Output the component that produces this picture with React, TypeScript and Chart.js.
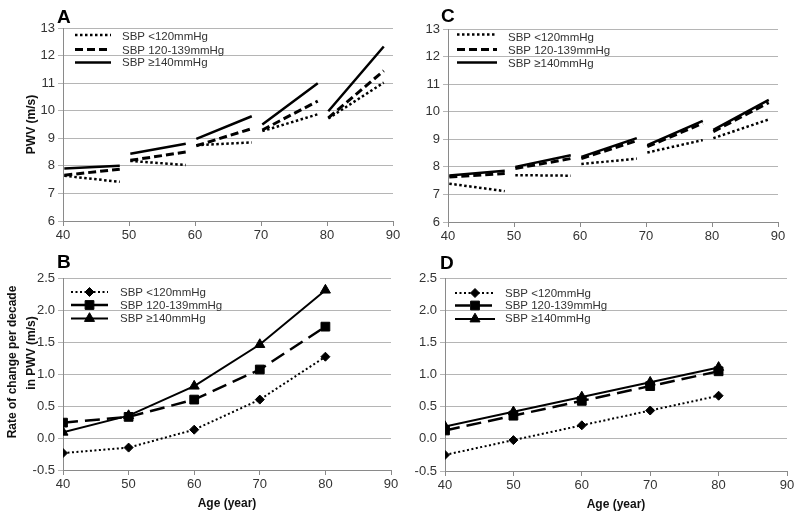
import React, { useEffect, useRef } from 'react';
import { Chart, registerables } from 'chart.js';

Chart.register(...registerables);
Chart.defaults.font.family = '"Liberation Sans", Arial, sans-serif';

// ---------- data ----------
const seriesLabels = ['SBP <120mmHg', 'SBP 120-139mmHg', 'SBP ≥140mmHg'];
const ageTicks = [40, 50, 60, 70, 80, 90];
const pwvTicks = [6, 7, 8, 9, 10, 11, 12, 13];
const rateTicks = [-0.5, 0, 0.5, 1.0, 1.5, 2.0, 2.5];

// decade segments (age at segment start / end)
const segmentStartAges = [40.2, 50.2, 60.2, 70.2, 80.2];
const segmentEndAges = [48.6, 58.6, 68.6, 78.6, 88.6];

// Panel A: PWV at start / end of each decade segment
const aLowStart = [7.64, 8.18, 8.75, 9.26, 9.72];
const aLowEnd = [7.42, 8.03, 8.85, 9.87, 11.02];
const aMidStart = [7.66, 8.2, 8.73, 9.3, 9.74];
const aMidEnd = [7.88, 8.5, 9.35, 10.35, 11.45];
const aHighStart = [7.9, 8.44, 8.98, 9.5, 9.98];
const aHighEnd = [8.0, 8.8, 9.8, 11.0, 12.33];

// Panel C
const cLowStart = [7.39, 7.7, 8.1, 8.52, 9.04];
const cLowEnd = [7.12, 7.68, 8.3, 8.97, 9.72];
const cMidStart = [7.63, 7.94, 8.3, 8.73, 9.28];
const cMidEnd = [7.76, 8.3, 8.95, 9.58, 10.33];
const cHighStart = [7.69, 8.0, 8.36, 8.79, 9.34];
const cHighEnd = [7.86, 8.42, 9.04, 9.67, 10.43];

// Panels B and D: rate of change per decade
const decadeAges = [40, 50, 60, 70, 80];
const bLow = [-0.235, -0.15, 0.13, 0.6, 1.27];
const bMid = [0.24, 0.33, 0.6, 1.07, 1.74];
const bHigh = [0.09, 0.35, 0.81, 1.46, 2.31];
const dLow = [-0.25, -0.02, 0.21, 0.44, 0.67];
const dMid = [0.13, 0.36, 0.59, 0.82, 1.05];
const dHigh = [0.19, 0.42, 0.65, 0.88, 1.11];

// ---------- helpers ----------
function segmentPoints(starts: number[], ends: number[]) {
  const pts: { x: number; y: number | null }[] = [];
  for (let i = 0; i < starts.length; i++) {
    pts.push({ x: segmentStartAges[i], y: starts[i] });
    pts.push({ x: segmentEndAges[i], y: ends[i] });
    pts.push({ x: segmentEndAges[i] + 0.5, y: null });
  }
  return pts;
}
function xyPoints(xs: number[], ys: number[]) {
  return xs.map((x, i) => ({ x, y: ys[i] }));
}

const TICK_FONT = { size: 13 };
const TITLE_FONT = { size: 12, weight: 'bold' as const };
const AXIS_COLOR = '#8a8a8a';
const GRID_COLOR = '#b5b5b5';

function drawMarker(ctx: CanvasRenderingContext2D, style: string, x: number, y: number, r: number) {
  ctx.save();
  ctx.fillStyle = '#000';
  ctx.strokeStyle = '#000';
  ctx.lineWidth = 1;
  ctx.setLineDash([]);
  ctx.beginPath();
  if (style === 'rectRot') {
    ctx.moveTo(x - r, y);
    ctx.lineTo(x, y - r);
    ctx.lineTo(x + r, y);
    ctx.lineTo(x, y + r);
  } else if (style === 'rect') {
    const s = r * Math.SQRT1_2;
    ctx.rect(x - s, y - s, 2 * s, 2 * s);
  } else if (style === 'triangle') {
    for (let k = 0; k < 3; k++) {
      const a = (k * 2 * Math.PI) / 3;
      const px = x + Math.sin(a) * r;
      const py = y - Math.cos(a) * r;
      if (k === 0) ctx.moveTo(px, py);
      else ctx.lineTo(px, py);
    }
  }
  ctx.closePath();
  ctx.fill();
  ctx.stroke();
  ctx.restore();
}

const decorPlugin = {
  id: 'decor',
  afterDraw(chart: any, _args: any, opts: any) {
    const ctx: CanvasRenderingContext2D = chart.ctx;
    ctx.save();
    // panel letter
    ctx.font = 'bold 19px "Liberation Sans", Arial, sans-serif';
    ctx.fillStyle = '#000';
    ctx.textAlign = 'left';
    ctx.textBaseline = 'alphabetic';
    ctx.fillText(opts.letter, opts.letterX, opts.letterY);
    // optional multi-line y title
    if (opts.yTitle) {
      ctx.font = 'bold 12px "Liberation Sans", Arial, sans-serif';
      ctx.fillStyle = '#111';
      ctx.textAlign = 'center';
      ctx.textBaseline = 'middle';
      opts.yTitle.forEach((t: any) => {
        ctx.save();
        ctx.translate(t.x, t.y);
        ctx.rotate(-Math.PI / 2);
        ctx.fillText(t.text, 0, 0);
        ctx.restore();
      });
    }
    // legend
    const lg = opts.legend;
    chart.data.datasets.forEach((ds: any, i: number) => {
      const y = lg.rows[i];
      ctx.save();
      ctx.strokeStyle = '#000';
      ctx.lineWidth = ds.borderWidth;
      ctx.setLineDash(ds.borderDash || []);
      ctx.beginPath();
      ctx.moveTo(lg.x0, y);
      ctx.lineTo(lg.x1, y);
      ctx.stroke();
      ctx.restore();
      if (lg.markers) drawMarker(ctx, ds.pointStyle, (lg.x0 + lg.x1) / 2, y, ds.pointRadius);
      ctx.font = '11.5px "Liberation Sans", Arial, sans-serif';
      ctx.fillStyle = '#333';
      ctx.textAlign = 'left';
      ctx.textBaseline = 'middle';
      ctx.fillText(ds.label, lg.textX, lg.textRows[i]);
    });
    ctx.restore();
  },
};

const segStyles = [
  { borderWidth: 2.5, borderDash: [2.5, 2.5] },
  { borderWidth: 3, borderDash: [8, 4] },
  { borderWidth: 2.5, borderDash: [] as number[] },
];
const rateStyles = [
  { borderWidth: 2, borderDash: [2, 2.5], pointStyle: 'rectRot', pointRadius: 4.5 },
  { borderWidth: 2.5, borderDash: [15, 7], pointStyle: 'rect', pointRadius: 6.2 },
  { borderWidth: 2, borderDash: [] as number[], pointStyle: 'triangle', pointRadius: 5.8 },
];

type PanelCfg = {
  kind: 'pwv' | 'rate';
  series: { x: number; y: number | null }[][];
  padding: { left: number; top: number; right: number; bottom: number };
  yWidth: number;
  xHeight: number;
  yTitle?: string;
  xTitle?: string;
  decor: any;
};

function buildConfig(p: PanelCfg): any {
  const isPwv = p.kind === 'pwv';
  const yTicks = isPwv ? pwvTicks : rateTicks;
  const datasets = p.series.map((data, i) => {
    const st: any = isPwv ? segStyles[i] : rateStyles[i];
    return {
      label: seriesLabels[i],
      data,
      borderColor: '#000',
      backgroundColor: '#000',
      borderWidth: st.borderWidth,
      borderDash: st.borderDash,
      borderCapStyle: 'butt',
      tension: 0,
      spanGaps: false,
      fill: false,
      pointStyle: isPwv ? 'circle' : st.pointStyle,
      pointRadius: isPwv ? 0 : st.pointRadius,
      pointBorderWidth: 1,
      pointBackgroundColor: '#000',
      pointBorderColor: '#000',
    };
  });
  return {
    type: 'line',
    data: { datasets },
    plugins: [decorPlugin],
    options: {
      animation: false,
      responsive: false,
      events: [],
      layout: { padding: p.padding },
      plugins: {
        legend: { display: false },
        tooltip: { enabled: false },
        decor: p.decor,
      },
      scales: {
        x: {
          type: 'linear',
          min: ageTicks[0],
          max: ageTicks[ageTicks.length - 1],
          ticks: { stepSize: ageTicks[1] - ageTicks[0], font: TICK_FONT, color: '#333', padding: 2, maxRotation: 0 },
          grid: { drawOnChartArea: false, drawTicks: true, tickLength: 5, color: AXIS_COLOR },
          border: { display: true, color: AXIS_COLOR, width: 1 },
          title: {
            display: !!p.xTitle,
            text: p.xTitle || '',
            font: TITLE_FONT,
            color: '#111',
            padding: { top: 0, bottom: 4 },
          },
          afterFit: (s: any) => {
            s.height = p.xHeight;
          },
        },
        y: {
          type: 'linear',
          min: yTicks[0],
          max: yTicks[yTicks.length - 1],
          ticks: {
            stepSize: yTicks[1] - yTicks[0],
            font: TICK_FONT,
            color: '#333',
            padding: 3,
            callback: (v: any) => (isPwv ? String(v) : Number(v).toFixed(1)),
          },
          grid: { drawTicks: true, tickLength: 5, color: GRID_COLOR },
          border: { display: true, color: AXIS_COLOR, width: 1 },
          title: {
            display: !!p.yTitle,
            text: p.yTitle || '',
            font: TITLE_FONT,
            color: '#111',
            padding: { top: 24, bottom: 0 },
          },
          afterFit: (s: any) => {
            s.width = p.yWidth;
          },
        },
      },
    },
  };
}

const panels: PanelCfg[] = [
  {
    kind: 'pwv',
    series: [
      segmentPoints(aLowStart, aLowEnd),
      segmentPoints(aMidStart, aMidEnd),
      segmentPoints(aHighStart, aHighEnd),
    ],
    padding: { left: 0, top: 28, right: 407, bottom: 267 },
    yWidth: 63,
    xHeight: 30,
    yTitle: 'PWV (m/s)',
    decor: {
      letter: 'A', letterX: 57, letterY: 23,
      legend: { x0: 75, x1: 111, textX: 122, rows: [35, 49.5, 62.5], textRows: [37, 50.5, 63] },
    },
  },
  {
    kind: 'pwv',
    series: [
      segmentPoints(cLowStart, cLowEnd),
      segmentPoints(cMidStart, cMidEnd),
      segmentPoints(cHighStart, cHighEnd),
    ],
    padding: { left: 400, top: 29, right: 22, bottom: 266 },
    yWidth: 48,
    xHeight: 30,
    decor: {
      letter: 'C', letterX: 441, letterY: 22,
      legend: { x0: 457, x1: 497, textX: 508, rows: [34.5, 49.5, 62.5], textRows: [37.5, 51, 63.5] },
    },
  },
  {
    kind: 'rate',
    series: [xyPoints(decadeAges, bLow), xyPoints(decadeAges, bMid), xyPoints(decadeAges, bHigh)],
    padding: { left: 0, top: 278, right: 409, bottom: 3 },
    yWidth: 63,
    xHeight: 45,
    xTitle: 'Age (year)',
    decor: {
      letter: 'B', letterX: 57, letterY: 268,
      yTitle: [
        { text: 'Rate of change per decade', x: 13, y: 362 },
        { text: 'in PWV (m/s)', x: 32, y: 353 },
      ],
      legend: { x0: 71, x1: 108, textX: 120, rows: [292, 305, 318.5], textRows: [293, 305.5, 318.5], markers: true },
    },
  },
  {
    kind: 'rate',
    series: [xyPoints(decadeAges, dLow), xyPoints(decadeAges, dMid), xyPoints(decadeAges, dHigh)],
    padding: { left: 400, top: 278, right: 13, bottom: 2 },
    yWidth: 45,
    xHeight: 45,
    xTitle: 'Age (year)',
    decor: {
      letter: 'D', letterX: 440, letterY: 269,
      legend: { x0: 455, x1: 495, textX: 505, rows: [293, 305.5, 319], textRows: [293.5, 306, 319], markers: true },
    },
  },
];

function Panel({ cfg }: { cfg: PanelCfg }) {
  const ref = useRef<HTMLCanvasElement>(null);
  useEffect(() => {
    const chart = new Chart(ref.current as HTMLCanvasElement, buildConfig(cfg));
    return () => chart.destroy();
  }, [cfg]);
  return (
    <canvas
      ref={ref}
      width={800}
      height={518}
      style={{ position: 'absolute', left: 0, top: 0, width: 800, height: 518 }}
    />
  );
}

export default function App() {
  return (
    <div style={{ position: 'fixed', left: 0, top: 0, width: 800, height: 518, background: '#fff' }}>
      {panels.map((p, i) => (
        <Panel key={i} cfg={p} />
      ))}
    </div>
  );
}
